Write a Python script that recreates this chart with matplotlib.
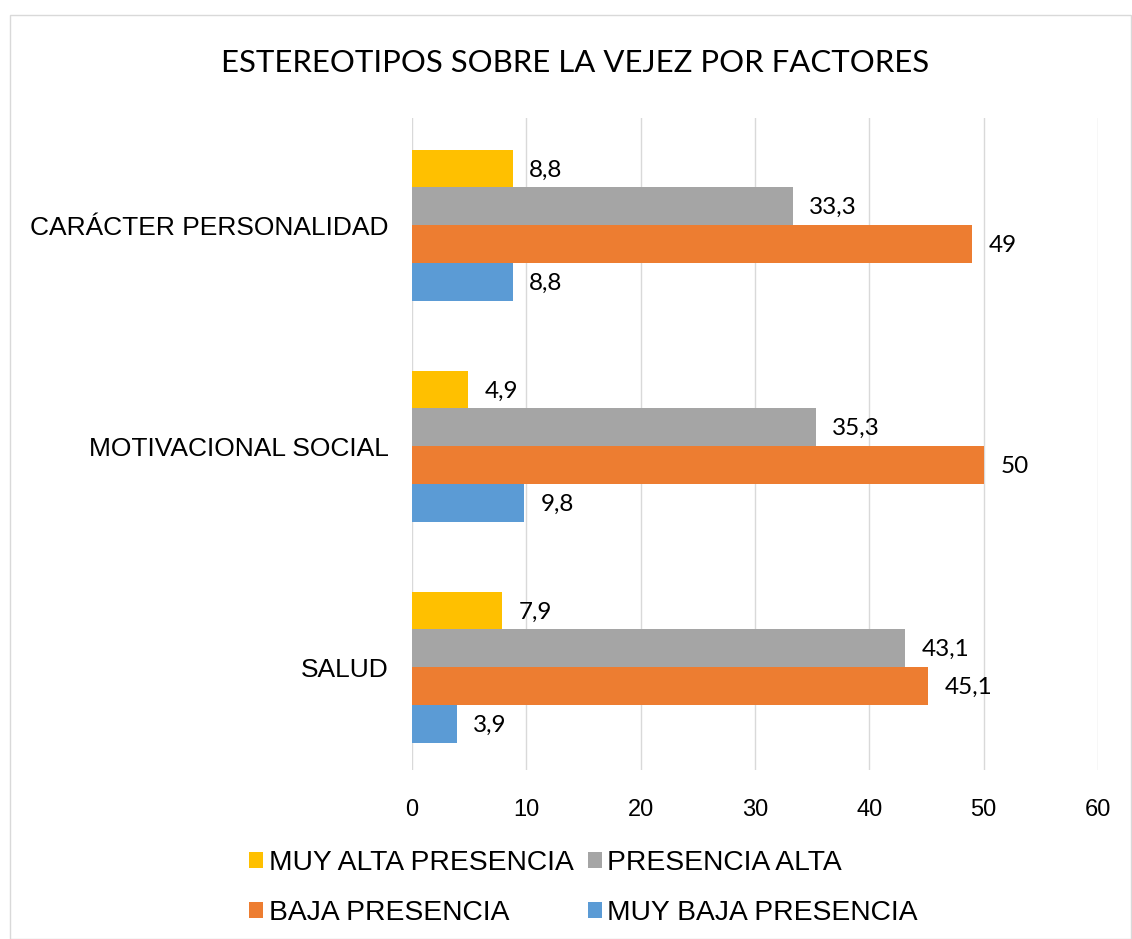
import matplotlib.pyplot as plt
from matplotlib.patches import Rectangle
import numpy as np

categories = ['SALUD', 'MOTIVACIONAL SOCIAL', 'CARÁCTER PERSONALIDAD']
series_names = ['MUY ALTA PRESENCIA', 'PRESENCIA ALTA', 'BAJA PRESENCIA', 'MUY BAJA PRESENCIA']
muy_alta = [7.9, 4.9, 8.8]
alta = [43.1, 35.3, 33.3]
baja = [45.1, 50, 49]
muy_baja = [3.9, 9.8, 8.8]
colors = ['#FFC000', '#A5A5A5', '#ED7D31', '#5B9BD5']

fig = plt.figure(figsize=(11.32, 9.39), dpi=100)
fig.patches.append(Rectangle((10/1132, 0), 1 - 10/1132 - 0.001, 1 - 15/939,
                             transform=fig.transFigure, fill=False,
                             edgecolor='#D9D9D9', linewidth=1))
ax = fig.add_axes([412/1132, 1 - 770/939, 686/1132, 652/939])

y = np.arange(len(categories))
h = 0.171
offsets = [1.5*h, 0.5*h, -0.5*h, -1.5*h]
for vals, name, col, off in zip([muy_alta, alta, baja, muy_baja], series_names, colors, offsets):
    bars = ax.barh(y + off, vals, height=h, color=col, label=name, zorder=3)
    for b, v in zip(bars, vals):
        txt = ('%g' % v).replace('.', ',')
        ax.annotate(txt, (v, b.get_y() + h/2), xytext=(12, -1), textcoords='offset points',
                    va='center', ha='left', fontsize=17.5, family='Lato', color='#000000')

ax.set_xlim(0, 60)
ax.set_ylim(-0.465, 2.485)
ax.set_xticks(range(0, 61, 10))
ax.set_yticks(y)
ax.set_yticklabels(categories)
ax.xaxis.grid(True, color='#D9D9D9', linewidth=1, zorder=0)
for s in ax.spines.values():
    s.set_visible(False)
ax.tick_params(axis='both', length=0)
ax.tick_params(axis='y', pad=17, labelsize=19)
ax.tick_params(axis='x', pad=21, labelsize=17)
for lab in ax.get_xticklabels() + ax.get_yticklabels():
    lab.set_family('Liberation Sans')

fig.text(0.508, 1 - 63/939, 'ESTEREOTIPOS SOBRE LA VEJEZ POR FACTORES', ha='center', va='center',
         fontsize=22.4, family='Lato')

handles, labels = ax.get_legend_handles_labels()
order = [0, 2, 1, 3]
fig.legend([handles[i] for i in order], [labels[i] for i in order], ncol=2,
           loc='center', bbox_to_anchor=(0.5155, 1 - 888/939), frameon=False,
           prop={'family': 'Liberation Sans', 'size': 20.3}, handlelength=0.5,
           handleheight=0.5, handletextpad=0.2, columnspacing=0.5, labelspacing=0.85)

fig.savefig('out.png', dpi=100)
